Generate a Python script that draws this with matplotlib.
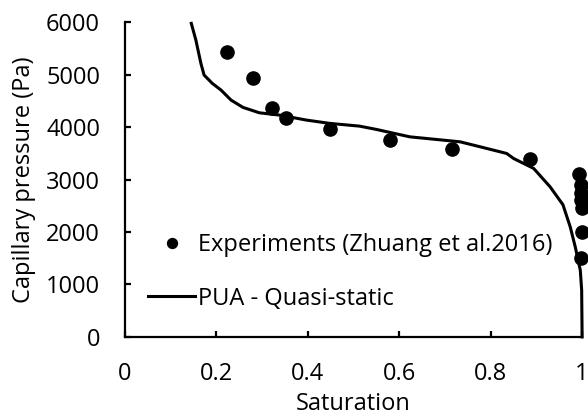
import matplotlib
matplotlib.use("Agg")
import matplotlib.pyplot as plt

plt.rcParams['font.family'] = ['Open Sans', 'DejaVu Sans']

# Experimental data (Zhuang et al. 2016)
exp_sat = [0.223, 0.281, 0.322, 0.353, 0.448, 0.579, 0.715, 0.885, 0.993, 0.997, 0.998, 0.998, 0.999, 1.000, 0.998]
exp_pc = [5434, 4938, 4355, 4164, 3960, 3750, 3573, 3382, 3096, 2900, 2750, 2600, 2450, 2000, 1500]

# PUA - Quasi-static curve
pua_sat = [0.145, 0.155, 0.166, 0.173, 0.191, 0.210, 0.232, 0.258, 0.294, 0.338, 0.397, 0.448,
           0.513, 0.550, 0.623, 0.733, 0.777, 0.835, 0.850, 0.894, 0.930, 0.958, 0.974, 0.985,
           0.996, 0.999, 1.000]
pua_pc = [5975, 5657, 5213, 4990, 4831, 4704, 4513, 4374, 4271, 4227, 4132, 4069,
          4017, 3954, 3813, 3718, 3623, 3496, 3401, 3211, 2860, 2520, 2097, 1716,
          1272, 890, 0]

x_ticks = [0, 0.2, 0.4, 0.6, 0.8, 1]
x_tick_labels = ['0', '0.2', '0.4', '0.6', '0.8', '1']
y_ticks = [0, 1000, 2000, 3000, 4000, 5000, 6000]

fig = plt.figure(figsize=(5.88, 4.16), dpi=100)
ax = fig.add_axes([0.2126, 0.19, 0.7774, 0.757])

ax.plot(exp_sat, exp_pc, 'o', color='black', markersize=9.5, clip_on=False,
        label='Experiments (Zhuang et al.2016)')
ax.plot(pua_sat, pua_pc, '-', color='black', linewidth=2.2, clip_on=False,
        label='PUA - Quasi-static')

ax.set_xlim(0, 1)
ax.set_ylim(0, 6000)
ax.set_xticks(x_ticks)
ax.set_xticklabels(x_tick_labels)
ax.set_yticks(y_ticks)

for s in ['top', 'right']:
    ax.spines[s].set_visible(False)
for s in ['left', 'bottom']:
    ax.spines[s].set_linewidth(1.6)

ax.tick_params(axis='both', direction='in', length=4.5, width=1.6, labelsize=17)
ax.tick_params(axis='x', pad=18)
ax.tick_params(axis='y', pad=18)

ax.set_xlabel('Saturation', fontsize=17, labelpad=4.5)
ax.set_ylabel('Capillary pressure (Pa)', fontsize=17, labelpad=7)

leg = ax.legend(loc='upper left', bbox_to_anchor=(0.03, 0.36), frameon=False,
                fontsize=17, handlelength=2.0, handletextpad=0.12,
                labelspacing=1.25, markerscale=0.75, borderaxespad=0)

fig.savefig('out.png', dpi=100)
